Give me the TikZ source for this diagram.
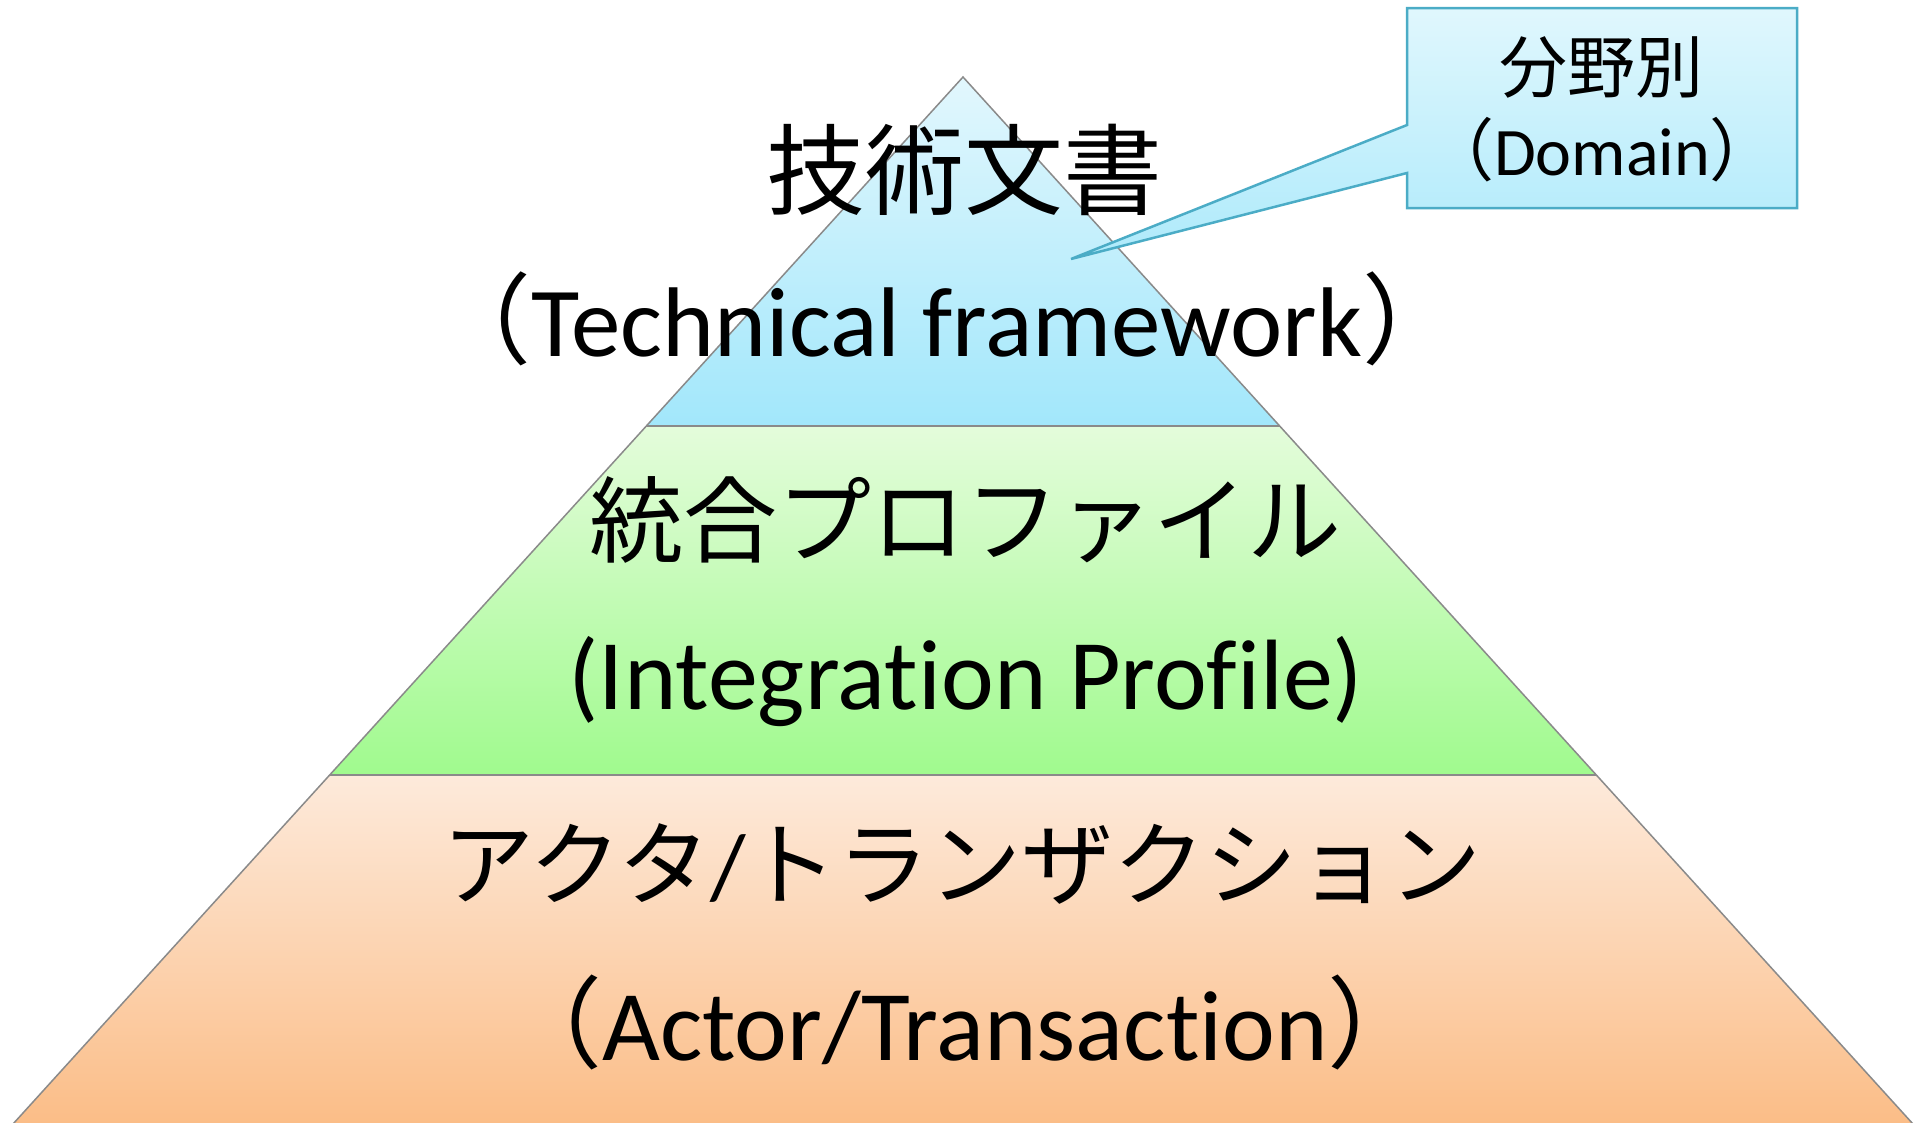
\documentclass[tikz,border=0pt]{standalone}
\usepackage{fontspec}
\setmainfont{Carlito}[Ligatures=NoCommon]
\newfontfamily\cjk{Noto Sans CJK JP}
\definecolor{blueTop}{HTML}{E2F7FD}
\definecolor{blueBot}{HTML}{A2E7FB}
\definecolor{greenTop}{HTML}{E4FCDB}
\definecolor{greenBot}{HTML}{A0FA8E}
\definecolor{orangeTop}{HTML}{FDEADB}
\definecolor{orangeBot}{HTML}{FBBD87}
\definecolor{calloutTop}{HTML}{E0F7FD}
\definecolor{calloutBot}{HTML}{AEEAFB}
\definecolor{calloutLine}{HTML}{4BACC6}
\definecolor{edgeGray}{HTML}{8A8A8A}
\tikzset{
  band/.style={draw=edgeGray, line width=1.5bp},
  bigtext/.style={inner sep=0pt, anchor=base, font=\fontsize{99bp}{110bp}\selectfont},
  boxtext/.style={inner sep=0pt, anchor=base, font=\fontsize{68bp}{75bp}\selectfont},
}
\begin{document}
\begin{tikzpicture}[x=1bp,y=-1bp]
\useasboundingbox (0,0) rectangle (1927,1122);
% pyramid corner points
\coordinate (apex) at (963,77);
\coordinate (l1) at (646,426);
\coordinate (r1) at (1280,426);
\coordinate (l2) at (330,775);
\coordinate (r2) at (1596,775);
\coordinate (l3) at (13,1124);
\coordinate (r3) at (1913,1124);
% bands
\shade[top color=orangeTop, bottom color=orangeBot] (l2) -- (r2) -- (r3) -- (l3) -- cycle;
\shade[top color=greenTop, bottom color=greenBot] (l1) -- (r1) -- (r2) -- (l2) -- cycle;
\shade[top color=blueTop, bottom color=blueBot] (apex) -- (r1) -- (l1) -- cycle;
\draw[band] (apex) -- (r3) -- (l3) -- cycle;
\draw[band] (l1) -- (r1);
\draw[band] (l2) -- (r2);
% callout
\coordinate (tip) at (1071,259);
\shade[top color=calloutTop, bottom color=calloutBot]
  (1407,8) -- (1797,8) -- (1797,208) -- (1407,208) -- (1407,173) -- (tip) -- (1407,125) -- cycle;
\draw[calloutLine, line width=2.5bp, line join=miter]
  (1407,8) -- (1797,8) -- (1797,208) -- (1407,208) -- (1407,173) -- (tip) -- (1407,125) -- cycle;
% texts
\node[bigtext] (t1) at (964,207) {\cjk 技術文書};
\node[bigtext] (t2) at (947,356) {{\cjk （}Technical framework{\cjk ）}};
\node[bigtext, font=\fontsize{94bp}{110bp}\selectfont] (t3) at (965,555) {\cjk 統合プロファイル};
\node[bigtext, font=\fontsize{100bp}{110bp}\selectfont] (t4) at (966,709) {(Integration Profile)};
\node[bigtext, font=\fontsize{92bp}{110bp}\selectfont] (t5) at (962,898) {{\cjk アクタ}/{\cjk トランザクション}};
\node[bigtext, font=\fontsize{100bp}{110bp}\selectfont] (t6) at (965,1060) {{\cjk （}Actor/Transaction{\cjk ）}};
\node[boxtext] (b1) at (1601,92) {\cjk 分野別};
\node[boxtext] (b2) at (1602,175) {{\cjk （}Domain{\cjk ）}};
\end{tikzpicture}
\end{document}
